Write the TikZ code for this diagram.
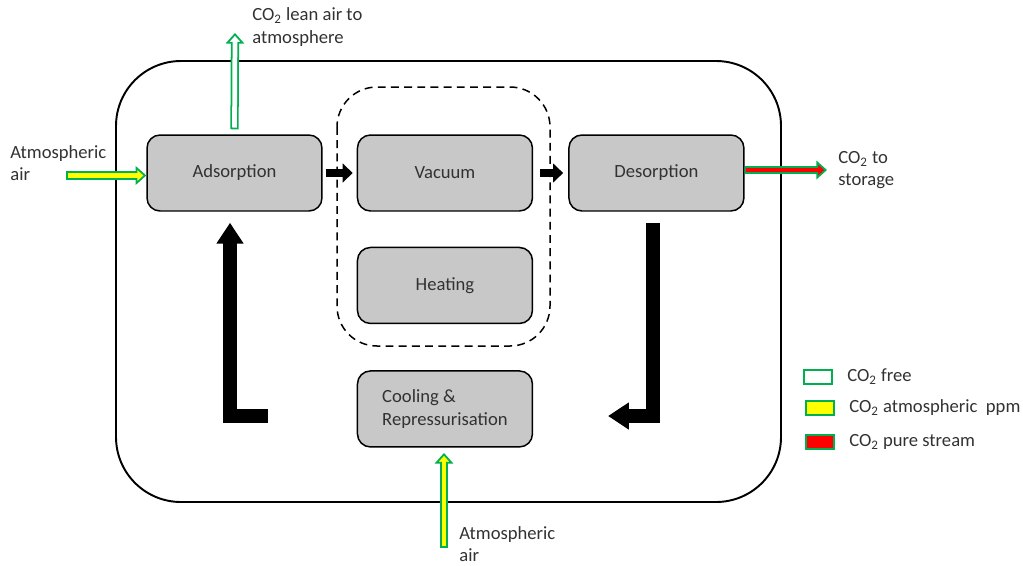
\documentclass[tikz,border=0pt]{standalone}
\usepackage{fontspec}
\setmainfont{Carlito}
\usetikzlibrary{arrows.meta, positioning}
\definecolor{boxgray}{RGB}{200,200,200}
\definecolor{textgray}{RGB}{50,50,50}
\definecolor{co2green}{RGB}{0,176,80}
\definecolor{co2yellow}{RGB}{255,255,0}
\definecolor{co2red}{RGB}{255,0,0}
\tikzstyle{stage} = [draw, fill=boxgray, rounded corners=0.26cm, line width=0.85pt, minimum width=3.5cm, minimum height=1.52cm, text=textgray]
\tikzstyle{lbl} = [text=textgray, align=left, inner sep=0pt, anchor=west]
\tikzstyle{legendbox} = [draw=co2green, line width=1.1pt, minimum width=0.56cm, minimum height=0.27cm, inner sep=0pt]
\tikzstyle{loopback} = [line width=7.9pt, line join=miter, -{Triangle[length=11.9pt, width=14.7pt]}]
\tikzstyle{stepflow} = [line width=5.1pt, -{Triangle[length=5.7pt, width=10.5pt]}]
\tikzset{co2flow/.style={draw=co2green, line width=4.7pt,
    -{Triangle[length=6pt, width=10.5pt, fill=#1, line width=1pt]},
    postaction={draw=#1, line width=2.7pt, -, shorten >=4.6pt, shorten <=1pt}}}

\begin{document}
\begin{tikzpicture}[x=0.02cm, y=-0.02cm, font=\fontsize{10.6}{12.8}\selectfont]
  \useasboundingbox (0,0) rectangle (1023,565);
  \draw[line width=1.1pt, rounded corners=1.3cm] (116,61) rectangle (781,502);
  \draw[line width=0.85pt, dash pattern=on 4.5pt off 3pt, rounded corners=0.8cm] (337,87) rectangle (550,346);

  \node[stage] (ads) at (234.5,173) {Adsorption};
  \node[stage, right=0.68cm of ads] (vac) {Vacuum};
  \node[stage, right=0.7cm of vac] (des) {Desorption};
  \node[stage, below=0.7cm of vac] (heat) {Heating};
  \node[stage, below=0.92cm of heat, align=left] (cool) {Cooling \&\\Repressurisation};

  \node[lbl] (airtxt) at (10,163) {Atmospheric\\air};
  \node[lbl] (leantxt) at (252,27) {CO\textsubscript{2} lean air to\\atmosphere};
  \node[lbl] (storetxt) at (838,170) {CO\textsubscript{2} to\\storage};
  \node[lbl] (airbtxt) at (459,544) {Atmospheric\\air};

  \draw[stepflow, shorten <=0.06cm, shorten >=0.08cm] (ads) -- (vac);
  \draw[stepflow, shorten <=0.14cm, shorten >=0.1cm] (vac) -- (des);

  \coordinate (retL) at (268,416);
  \coordinate (retR) at (608,416);
  \draw[loopback] (retL) -| ([xshift=-0.09cm, yshift=-0.22cm]ads.south);
  \draw[loopback] ([xshift=-0.06cm, yshift=-0.22cm]des.south) |- (retR);

  \coordinate (airL) at (66,175.5);
  \coordinate (lean) at (235,33);
  \coordinate (store) at (827,170);
  \coordinate (airB) at (444,548);
  \coordinate (airBtop) at (444,453);
  \draw[co2flow=co2yellow] (airL) -- (airL -| ads.west);
  \draw[co2flow=white] ([yshift=0.1cm]ads.north) -- (lean);
  \draw[co2flow=co2red] (des.east |- store) -- (store);
  \draw[co2flow=co2yellow] (airB) -- (airBtop);

  \node[legendbox, fill=white] (keyfree) at (818,377) {};
  \node[legendbox, fill=co2yellow] (keyatm) at (820,408) {};
  \node[legendbox, fill=co2red] (keypure) at (820,442) {};
  \node[lbl, right=0.28cm of keyfree] (freetxt) {CO\textsubscript{2} free};
  \node[lbl, right=0.28cm of keyatm] (atmtxt) {CO\textsubscript{2} atmospheric~ ppm};
  \node[lbl, right=0.28cm of keypure] (puretxt) {CO\textsubscript{2} pure stream};
\end{tikzpicture}
\end{document}
